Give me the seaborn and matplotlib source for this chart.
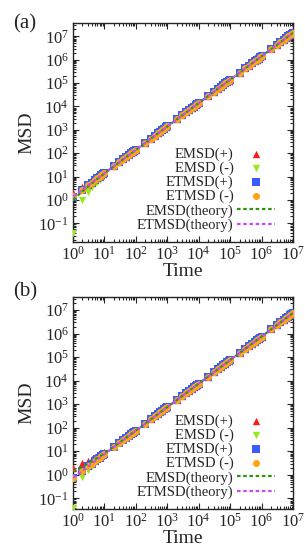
import matplotlib
matplotlib.use("Agg")
import matplotlib.pyplot as plt
import matplotlib.ticker as mticker
import seaborn as sns

# Temps d'echantillonnage (1..9 par decade, jusqu'a 1e7)
temps = [1, 2, 3, 4, 5, 6, 7, 8, 9,
         10, 20, 30, 40, 50, 60, 70, 80, 90,
         100, 200, 300, 400, 500, 600, 700, 800, 900,
         1e3, 2e3, 3e3, 4e3, 5e3, 6e3, 7e3, 8e3, 9e3,
         1e4, 2e4, 3e4, 4e4, 5e4, 6e4, 7e4, 8e4, 9e4,
         1e5, 2e5, 3e5, 4e5, 5e5, 6e5, 7e5, 8e5, 9e5,
         1e6, 2e6, 3e6, 4e6, 5e6, 6e6, 7e6, 8e6, 9e6,
         1e7]

# Panneau (a)
emsd_plus_a = [2.0, 3.5, 4.7, 6.0, 7.3, 8.6, 10.0, 11.3, 12.7,
               14.2, 28.5, 42, 56, 70, 84, 98, 112, 126,
               140, 280, 420, 560, 700, 840, 980, 1120, 1260,
               1.4e3, 2.8e3, 4.2e3, 5.6e3, 7.0e3, 8.4e3, 9.8e3, 1.12e4, 1.26e4,
               1.4e4, 2.8e4, 4.2e4, 5.6e4, 7.0e4, 8.4e4, 9.8e4, 1.12e5, 1.26e5,
               1.4e5, 2.8e5, 4.2e5, 5.6e5, 7.0e5, 8.4e5, 9.8e5, 1.12e6, 1.26e6,
               1.4e6, 2.8e6, 4.2e6, 5.6e6, 7.0e6, 8.4e6, 9.8e6, 1.12e7, 1.26e7,
               1.4e7]
emsd_minus_a = [0.04, 1.0, 2.2, 3.5, 4.8, 6.1, 7.4, 8.8, 10.1,
                11.8, 25, 39, 53, 67, 81, 95, 109, 123,
                137, 276, 416, 556, 696, 836, 976, 1115, 1255,
                1.39e3, 2.79e3, 4.19e3, 5.59e3, 7.0e3, 8.4e3, 9.8e3, 1.12e4, 1.26e4,
                1.4e4, 2.8e4, 4.2e4, 5.6e4, 7.0e4, 8.4e4, 9.8e4, 1.12e5, 1.26e5,
                1.4e5, 2.8e5, 4.2e5, 5.6e5, 7.0e5, 8.4e5, 9.8e5, 1.12e6, 1.26e6,
                1.4e6, 2.8e6, 4.2e6, 5.6e6, 7.0e6, 8.4e6, 9.8e6, 1.12e7, 1.26e7,
                1.4e7]
etmsd_plus_a = [1.4, 2.8, 4.2, 5.6, 7.0, 8.4, 9.8, 11.2, 12.6,
                14, 28, 42, 56, 70, 84, 98, 112, 126,
                140, 280, 420, 560, 700, 840, 980, 1120, 1260,
                1.4e3, 2.8e3, 4.2e3, 5.6e3, 7.0e3, 8.4e3, 9.8e3, 1.12e4, 1.26e4,
                1.4e4, 2.8e4, 4.2e4, 5.6e4, 7.0e4, 8.4e4, 9.8e4, 1.12e5, 1.26e5,
                1.4e5, 2.8e5, 4.2e5, 5.6e5, 7.0e5, 8.4e5, 9.8e5, 1.12e6, 1.26e6,
                1.4e6, 2.8e6, 4.2e6, 5.6e6, 7.0e6, 8.4e6, 9.8e6, 1.12e7, 1.26e7,
                1.4e7]
etmsd_minus_a = [1.45, 2.8, 4.2, 5.6, 7.0, 8.4, 9.8, 11.2, 12.6,
                 14, 28, 42, 56, 70, 84, 98, 112, 126,
                 140, 280, 420, 560, 700, 840, 980, 1120, 1260,
                 1.4e3, 2.8e3, 4.2e3, 5.6e3, 7.0e3, 8.4e3, 9.8e3, 1.12e4, 1.26e4,
                 1.4e4, 2.8e4, 4.2e4, 5.6e4, 7.0e4, 8.4e4, 9.8e4, 1.12e5, 1.26e5,
                 1.4e5, 2.8e5, 4.2e5, 5.6e5, 7.0e5, 8.4e5, 9.8e5, 1.12e6, 1.26e6,
                 1.4e6, 2.8e6, 4.2e6, 5.6e6, 7.0e6, 8.4e6, 9.8e6, 1.12e7, 1.26e7,
                 1.4e7]
temps_theorie = [1, 2, 3, 5, 10, 20, 50, 100, 1e3, 1e7]
emsd_theorie_a = [1.0, 2.4, 3.8, 6.6, 13.6, 27.6, 69.6, 139.6, 1.4e3, 1.4e7]
etmsd_theorie_a = [1.4, 2.8, 4.2, 7.0, 14, 28, 70, 140, 1.4e3, 1.4e7]

# Panneau (b)
emsd_plus_b = [2.0, 3.2, 4.0, 4.8, 5.6, 6.4, 7.2, 8.0, 8.8,
               9.6, 17, 25, 32, 40, 47, 54, 61, 69,
               77, 152, 227, 302, 377, 452, 527, 602, 677,
               752, 1.5e3, 2.25e3, 3.0e3, 3.75e3, 4.5e3, 5.25e3, 6.0e3, 6.75e3,
               7.5e3, 1.5e4, 2.25e4, 3.0e4, 3.75e4, 4.5e4, 5.25e4, 6.0e4, 6.75e4,
               7.5e4, 1.5e5, 2.25e5, 3.0e5, 3.75e5, 4.5e5, 5.25e5, 6.0e5, 6.75e5,
               7.5e5, 1.5e6, 2.25e6, 3.0e6, 3.75e6, 4.5e6, 5.25e6, 6.0e6, 6.75e6,
               7.5e6]
emsd_minus_b = [0.04, 0.8, 1.6, 2.4, 3.2, 4.0, 4.8, 5.6, 6.4,
                7.2, 14.5, 22, 29, 37, 44, 52, 59, 67,
                74, 149, 224, 299, 374, 449, 524, 599, 674,
                749, 1.5e3, 2.25e3, 3.0e3, 3.75e3, 4.5e3, 5.25e3, 6.0e3, 6.75e3,
                7.5e3, 1.5e4, 2.25e4, 3.0e4, 3.75e4, 4.5e4, 5.25e4, 6.0e4, 6.75e4,
                7.5e4, 1.5e5, 2.25e5, 3.0e5, 3.75e5, 4.5e5, 5.25e5, 6.0e5, 6.75e5,
                7.5e5, 1.5e6, 2.25e6, 3.0e6, 3.75e6, 4.5e6, 5.25e6, 6.0e6, 6.75e6,
                7.5e6]
etmsd_plus_b = [0.75, 1.5, 2.25, 3.0, 3.75, 4.5, 5.25, 6.0, 6.75,
                7.5, 15, 22.5, 30, 37.5, 45, 52.5, 60, 67.5,
                75, 150, 225, 300, 375, 450, 525, 600, 675,
                750, 1.5e3, 2.25e3, 3.0e3, 3.75e3, 4.5e3, 5.25e3, 6.0e3, 6.75e3,
                7.5e3, 1.5e4, 2.25e4, 3.0e4, 3.75e4, 4.5e4, 5.25e4, 6.0e4, 6.75e4,
                7.5e4, 1.5e5, 2.25e5, 3.0e5, 3.75e5, 4.5e5, 5.25e5, 6.0e5, 6.75e5,
                7.5e5, 1.5e6, 2.25e6, 3.0e6, 3.75e6, 4.5e6, 5.25e6, 6.0e6, 6.75e6,
                7.5e6]
etmsd_minus_b = [0.7, 1.5, 2.25, 3.0, 3.75, 4.5, 5.25, 6.0, 6.75,
                 7.5, 15, 22.5, 30, 37.5, 45, 52.5, 60, 67.5,
                 75, 150, 225, 300, 375, 450, 525, 600, 675,
                 750, 1.5e3, 2.25e3, 3.0e3, 3.75e3, 4.5e3, 5.25e3, 6.0e3, 6.75e3,
                 7.5e3, 1.5e4, 2.25e4, 3.0e4, 3.75e4, 4.5e4, 5.25e4, 6.0e4, 6.75e4,
                 7.5e4, 1.5e5, 2.25e5, 3.0e5, 3.75e5, 4.5e5, 5.25e5, 6.0e5, 6.75e5,
                 7.5e5, 1.5e6, 2.25e6, 3.0e6, 3.75e6, 4.5e6, 5.25e6, 6.0e6, 6.75e6,
                 7.5e6]
emsd_theorie_b = [1.45, 2.2, 2.95, 4.45, 8.2, 15.7, 38.2, 75.7, 750.7, 7.5e6]
etmsd_theorie_b = [0.75, 1.5, 2.25, 3.75, 7.5, 15, 37.5, 75, 750, 7.5e6]

etiquettes = ["EMSD(+)", "EMSD (-)", "ETMSD(+)", "ETMSD (-)", "EMSD(theory)", "ETMSD(theory)"]

# Style
sns.set_style("ticks")
plt.rcParams["font.family"] = ["Liberation Serif", "DejaVu Serif"]
plt.rcParams["mathtext.fontset"] = "custom"
plt.rcParams["mathtext.rm"] = "Liberation Serif"
plt.rcParams["mathtext.it"] = "Liberation Serif:italic"

ROUGE = "#ff1a1a"
VERT_CLAIR = "#9be61e"
BLEU = "#3a5cff"
ORANGE = "#ffa511"
VERT = "#2e9412"
VIOLET = "#c24dff"

fig = plt.figure(figsize=(3.05, 5.56), dpi=100)
ax_a = fig.add_axes([73 / 305, 1 - 242 / 556, 220 / 305, 219 / 556])
ax_b = fig.add_axes([73 / 305, 1 - 509 / 556, 220 / 305, 212 / 556])

panneaux = [
    (ax_a, emsd_plus_a, emsd_minus_a, etmsd_plus_a, etmsd_minus_a,
     emsd_theorie_a, etmsd_theorie_a, (0.016, 3.7e7), "(a)", 24),
    (ax_b, emsd_plus_b, emsd_minus_b, etmsd_plus_b, etmsd_minus_b,
     emsd_theorie_b, etmsd_theorie_b, (0.035, 3.6e7), "(b)", 292),
]

for ax, ep, em, tp, tm, eth, tth, ylim, lettre, ylettre in panneaux:
    sns.scatterplot(x=temps, y=ep, marker="^", color=ROUGE, s=28, linewidth=0,
                    label=etiquettes[0], ax=ax, zorder=3)
    sns.scatterplot(x=temps, y=em, marker="v", color=VERT_CLAIR, s=28, linewidth=0,
                    label=etiquettes[1], ax=ax, zorder=3)
    sns.scatterplot(x=temps, y=tp, marker="s", color=BLEU, s=30, linewidth=0,
                    label=etiquettes[2], ax=ax, zorder=3)
    sns.scatterplot(x=temps, y=tm, marker="o", color=ORANGE, s=26, linewidth=0,
                    label=etiquettes[3], ax=ax, zorder=3)
    sns.lineplot(x=temps_theorie, y=eth, color=VERT, linewidth=1.6,
                 dashes=False, label=etiquettes[4], ax=ax, zorder=4)
    sns.lineplot(x=temps_theorie, y=tth, color=VIOLET, linewidth=1.6,
                 dashes=False, label=etiquettes[5], ax=ax, zorder=4)
    for ligne in ax.get_lines():
        ligne.set_dashes((1.6, 1.2))

    ax.set_xscale("log")
    ax.set_yscale("log")
    ax.set_xlim(1, 1e7)
    ax.set_ylim(*ylim)
    ax.xaxis.set_major_locator(mticker.LogLocator(base=10, numticks=20))
    ax.yaxis.set_major_locator(mticker.LogLocator(base=10, numticks=20))
    ax.xaxis.set_minor_locator(mticker.LogLocator(base=10, subs=range(2, 10), numticks=20))
    ax.yaxis.set_minor_locator(mticker.LogLocator(base=10, subs=range(2, 10), numticks=20))
    ax.xaxis.set_minor_formatter(mticker.NullFormatter())
    ax.yaxis.set_minor_formatter(mticker.NullFormatter())
    ax.tick_params(which="both", direction="in", top=True, right=True,
                   labelsize=12, width=0.8, pad=3)
    ax.tick_params(which="major", length=4.5)
    ax.tick_params(which="minor", length=2.3)
    for cote in ax.spines.values():
        cote.set_linewidth(1.0)
    ax.set_xlabel("Time", fontsize=14, labelpad=-1)
    ax.set_ylabel("MSD", fontsize=14, labelpad=2)

    ax.legend(loc="lower right", bbox_to_anchor=(0.965, 0.0), frameon=False,
              markerfirst=False, fontsize=10.5, handlelength=2.6,
              handletextpad=0.25, labelspacing=0.05, borderaxespad=0.3,
              scatterpoints=1)

    fig.text(13 / 305, 1 - ylettre / 556, lettre, fontsize=15, va="center", ha="left")

fig.savefig("out.png", dpi=100)
